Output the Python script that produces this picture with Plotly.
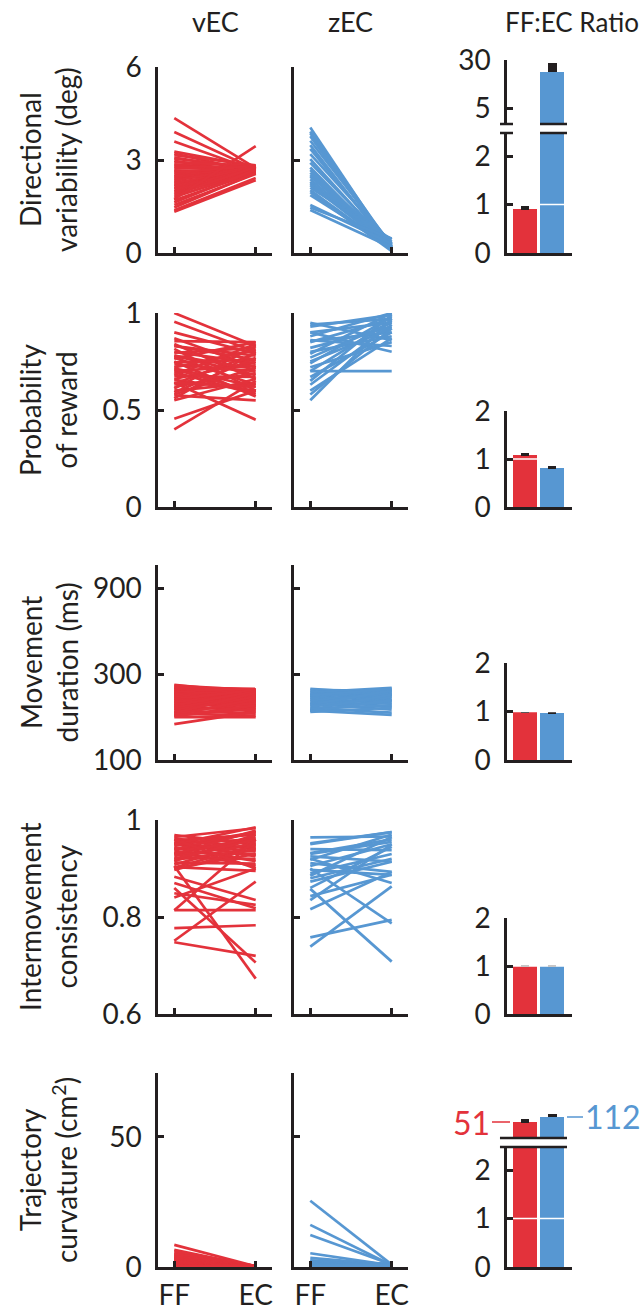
import math
import plotly.graph_objects as go

W, H = 641, 1314
RED = "#E3323B"
BLUE = "#5797D2"
INK = "#231F20"
FONT = "Lato, Liberation Sans, sans-serif"

conditions = ["FF", "EC"]
column_titles = ["vEC", "zEC", "FF:EC Ratio"]
row_titles = ["Directional<br>variability (deg)", "Probability<br>of reward",
              "Movement<br>duration (ms)", "Intermovement<br>consistency",
              "Trajectory<br>curvature (cm<sup>2</sup>)"]

# ---- Row 1: directional variability (deg)
dirvar_vEC_FF = [4.35, 3.90, 3.60, 3.27, 3.21, 3.16, 3.08, 3.04, 2.97, 2.93, 2.86, 2.83, 2.77, 2.74,
                 2.67, 2.64, 2.59, 2.55, 2.49, 2.47, 2.41, 2.37, 2.33, 2.28, 2.24, 2.19, 2.15, 2.09,
                 2.06, 1.99, 1.94, 1.88, 1.81, 1.74, 1.70, 1.63, 1.55, 1.47, 1.38, 1.33]
dirvar_vEC_EC = [2.74, 2.70, 2.66, 2.78, 2.61, 2.83, 2.67, 2.75, 2.58, 2.80, 2.69, 2.62, 2.77, 2.71,
                 2.56, 2.68, 2.81, 2.63, 2.73, 2.59, 2.70, 2.66, 2.79, 2.61, 2.75, 2.64, 2.68, 2.72,
                 2.57, 2.70, 2.62, 2.77, 2.65, 3.45, 2.60, 2.69, 2.55, 2.58, 2.42, 2.35]
dirvar_zEC_FF = [4.05, 3.92, 3.86, 3.77, 3.62, 3.48, 3.36, 3.19, 3.03, 2.91, 2.76, 2.68, 2.59, 2.52,
                 2.46, 2.38, 2.30, 2.25, 2.19, 2.11, 2.03, 1.96, 1.87, 1.55, 1.47, 1.39]
dirvar_zEC_EC = [0.12, 0.20, 0.08, 0.15, 0.26, 0.10, 0.18, 0.31, 0.14, 0.22, 0.09, 0.17, 0.28, 0.12,
                 0.36, 0.20, 0.10, 0.24, 0.16, 0.44, 0.13, 0.06, 0.21, 0.30, 0.47, 0.18]

# ---- Row 2: probability of reward
reward_vEC_FF = [1.00, 0.955, 0.90, 0.87, 0.855, 0.84, 0.83, 0.815, 0.80, 0.795, 0.78, 0.77, 0.765,
                 0.75, 0.745, 0.735, 0.72, 0.715, 0.70, 0.695, 0.68, 0.675, 0.66, 0.655, 0.64, 0.635,
                 0.62, 0.61, 0.60, 0.59, 0.58, 0.575, 0.56, 0.55, 0.71, 0.78, 0.64, 0.455, 0.40, 0.83]
reward_vEC_EC = [0.83, 0.80, 0.79, 0.72, 0.85, 0.66, 0.78, 0.60, 0.74, 0.82, 0.68, 0.63, 0.85, 0.57,
                 0.76, 0.70, 0.81, 0.62, 0.73, 0.58, 0.84, 0.67, 0.75, 0.60, 0.45, 0.79, 0.69, 0.83,
                 0.64, 0.77, 0.72, 0.55, 0.80, 0.66, 0.59, 0.71, 0.62, 0.60, 0.65, 0.76]
reward_zEC_FF = [0.95, 0.94, 0.93, 0.90, 0.90, 0.88, 0.855, 0.85, 0.82, 0.80, 0.79, 0.77, 0.75, 0.74,
                 0.72, 0.70, 0.70, 0.67, 0.65, 0.63, 0.60, 0.58, 0.55, 0.86]
reward_zEC_EC = [0.86, 0.97, 0.99, 0.80, 0.95, 1.00, 0.90, 0.97, 0.93, 0.88, 1.00, 0.95, 0.92, 0.98,
                 0.85, 0.70, 0.96, 0.90, 0.99, 0.94, 0.87, 0.92, 0.97, 0.83]

# ---- Row 3: movement duration (ms)
duration_vEC_FF = [261, 259, 254, 252, 251, 247, 246, 242, 240, 239, 236, 232, 231, 230, 226, 224, 223,
                   219, 218, 216, 213, 210, 209, 206, 203, 201, 200, 196, 194, 193, 189, 188, 184, 182,
                   181, 178, 176, 175, 173, 158]
duration_vEC_EC = [236, 244, 229, 248, 221, 239, 212, 246, 226, 233, 205, 241, 218, 230, 198, 237, 223,
                   209, 244, 215, 227, 191, 234, 202, 219, 240, 186, 212, 230, 196, 224, 181, 207, 236,
                   176, 218, 193, 201, 173, 185]
duration_zEC_FF = [248, 245, 240, 237, 233, 231, 227, 223, 222, 218, 216, 212, 208, 207, 203, 201, 198,
                   194, 193, 190, 188, 187, 185, 228]
duration_zEC_EC = [232, 241, 226, 251, 219, 238, 212, 246, 205, 229, 198, 235, 216, 190, 243, 208, 224,
                   183, 201, 231, 178, 214, 195, 249]

# ---- Row 4: intermovement consistency
consist_vEC_FF = [0.969, 0.965, 0.962, 0.958, 0.955, 0.952, 0.950, 0.947, 0.944, 0.941, 0.938, 0.935,
                  0.932, 0.929, 0.926, 0.922, 0.918, 0.915, 0.912, 0.908, 0.903, 0.902, 0.900, 0.897,
                  0.920, 0.940, 0.883, 0.870, 0.860, 0.849, 0.840, 0.814, 0.814, 0.777, 0.751, 0.748,
                  0.905, 0.930, 0.950, 0.960]
consist_vEC_EC = [0.950, 0.983, 0.940, 0.970, 0.925, 0.960, 0.935, 0.975, 0.915, 0.945, 0.958, 0.905,
                  0.930, 0.965, 0.950, 0.920, 0.938, 0.970, 0.910, 0.955, 0.895, 0.948, 0.930, 0.942,
                  0.960, 0.975, 0.835, 0.818, 0.706, 0.825, 0.900, 0.814, 0.960, 0.783, 0.873, 0.720,
                  0.673, 0.978, 0.985, 0.900]
consist_zEC_FF = [0.964, 0.952, 0.940, 0.932, 0.925, 0.918, 0.911, 0.905, 0.897, 0.890, 0.885, 0.873,
                  0.860, 0.858, 0.843, 0.835, 0.816, 0.758, 0.739, 0.930, 0.900, 0.950, 0.880, 0.920]
consist_zEC_EC = [0.966, 0.975, 0.938, 0.960, 0.914, 0.970, 0.893, 0.950, 0.887, 0.930, 0.965, 0.914,
                  0.945, 0.708, 0.887, 0.950, 0.893, 0.794, 0.863, 0.955, 0.787, 0.975, 0.920, 0.870]

# ---- Row 5: trajectory curvature (cm^2)
curv_vEC_FF = [8.5, 6.6, 6.1, 5.4, 5.0, 4.7, 4.2, 4.0, 3.8, 3.4, 3.3, 3.0, 2.9, 2.7, 2.5, 2.4, 2.2, 2.1,
               2.0, 1.9, 1.8, 1.7, 1.6, 1.5, 1.4, 1.3, 1.2, 1.1, 1.0, 0.9, 0.8, 0.7, 0.6, 0.55, 0.5, 0.4,
               0.35, 0.3, 0.25, 0.2]
curv_vEC_EC = [0.3, 0.2, 0.4, 0.25, 0.35, 0.15, 0.3, 0.45, 0.2, 0.3, 0.1, 0.35, 0.25, 0.4, 0.2, 0.3,
               0.15, 0.35, 0.25, 0.3, 0.2, 0.4, 0.1, 0.3, 0.25, 0.35, 0.2, 0.3, 0.15, 0.25, 0.3, 0.2,
               0.35, 0.1, 0.25, 0.3, 0.2, 0.15, 0.3, 0.2]
curv_zEC_FF = [25.5, 16.2, 12.3, 5.3, 3.5, 2.6, 2.3, 2.1, 1.9, 1.7, 1.5, 1.4, 1.2, 1.1, 1.0, 0.9, 0.8,
               0.7, 0.6, 0.5, 0.45, 0.4, 0.35, 0.3]
curv_zEC_EC = [0.9, 0.7, 1.0, 0.6, 0.8, 1.1, 0.5, 0.9, 0.7, 1.0, 0.6, 0.8, 0.9, 0.5, 1.2, 0.7, 0.8,
               0.6, 1.0, 0.9, 0.5, 0.7, 0.8, 0.6]

# ---- FF:EC ratio (mean, s.e.)
ratio_vEC = [0.91, 1.09, 0.99, 0.99, 51]
ratio_vEC_err = [0.04, 0.02, 0.01, 0.01, 19]
ratio_zEC = [19.2, 0.82, 0.97, 0.99, 112]
ratio_zEC_err = [7.6, 0.02, 0.01, 0.015, 67]

# ---- per-row axis settings
row_ranges = [[0, 6], [0, 1], [2, math.log10(1208)], [0.6, 1.0], [0, 74.6]]
row_types = ["linear", "linear", "log", "linear", "linear"]
row_tickvals = [[0, 3, 6], [0, 0.5, 1], [100, 300, 900], [0.6, 0.8, 1], [0, 50]]
row_ticktext = [["0", "3", "6"], ["0", "0.5", "1"], ["100", "300", "900"], ["0.6", "0.8", "1"], ["0", "50"]]
row_data = [
    (dirvar_vEC_FF, dirvar_vEC_EC, dirvar_zEC_FF, dirvar_zEC_EC),
    (reward_vEC_FF, reward_vEC_EC, reward_zEC_FF, reward_zEC_EC),
    (duration_vEC_FF, duration_vEC_EC, duration_zEC_FF, duration_zEC_EC),
    (consist_vEC_FF, consist_vEC_EC, consist_zEC_FF, consist_zEC_EC),
    (curv_vEC_FF, curv_vEC_EC, curv_zEC_FF, curv_zEC_EC),
]

# pixel layout (bottom, top) of each row's line panels
row_px = [(253, 67), (507, 313), (760, 565), (1014, 820), (1267, 1073)]
ratio_px = [(253, 133), (507, 411), (760, 663), (1014, 918), (1267, 1147)]
ratio_upper_px = {0: (124, 60), 4: (1138, 1100)}
ratio_upper_range = {0: [0.44, math.log10(30)], 4: [0.62, 3.205]}
LINE_X = [(158, 272), (294, 408)]
RATIO_X = (507, 572)


def xd(a, b):
    return [a / W, b / W]


def yd(bottom, top):
    return [1 - bottom / H, 1 - top / H]


fig = go.Figure()
layout = {}
shapes = []
annotations = []
counter = [0]

tickfont = dict(family=FONT, size=28, color=INK)
axis_common = dict(showgrid=False, zeroline=False, showline=True, linewidth=2.5, linecolor=INK,
                   ticks="inside", ticklen=6, tickwidth=2.5, tickcolor=INK, tickfont=tickfont,
                   automargin=False)


def new_axes(xcfg, ycfg):
    counter[0] += 1
    n = counter[0]
    s = "" if n == 1 else str(n)
    xcfg = dict(xcfg)
    ycfg = dict(ycfg)
    xcfg["anchor"] = "y" + s
    ycfg["anchor"] = "x" + s
    xcfg.setdefault("automargin", False)
    ycfg.setdefault("automargin", False)
    layout["xaxis" + s] = xcfg
    layout["yaxis" + s] = ycfg
    return "x" + s, "y" + s


for r in range(5):
    vff, vec, zff, zec = row_data[r]
    bottom, top = row_px[r]
    for c, (ff, ec, col) in enumerate([(vff, vec, RED), (zff, zec, BLUE)]):
        xcfg = dict(axis_common, domain=xd(*LINE_X[c]), range=[-0.2, 1.2],
                    tickmode="array", tickvals=[0, 1], ticktext=conditions,
                    showticklabels=(r == 4), ticklabelstandoff=2)
        ycfg = dict(axis_common, domain=yd(bottom, top), range=row_ranges[r], type=row_types[r],
                    tickmode="array", tickvals=row_tickvals[r], ticktext=row_ticktext[r],
                    showticklabels=(c == 0), ticklabelstandoff=8)
        xa, ya = new_axes(xcfg, ycfg)
        xs, ys = [], []
        for a, b in zip(ff, ec):
            xs += [0, 1, None]
            ys += [a, b, None]
        fig.add_trace(go.Scatter(x=xs, y=ys, mode="lines", xaxis=xa, yaxis=ya,
                                 line=dict(color=col, width=2.7), hoverinfo="skip",
                                 showlegend=False))

    # ratio panel (lower segment)
    rb, rt = ratio_px[r]
    lower_top = 2.0 if r in (1, 2, 3) else (rb - rt) / 48.5
    xcfg = dict(axis_common, domain=xd(*RATIO_X), range=[-0.667, 1.74], ticks="",
                showticklabels=False)
    ycfg = dict(axis_common, domain=yd(rb, rt), range=[0, lower_top], tickmode="array",
                tickvals=[0, 1, 2], ticktext=["0", "1", "2"], ticklabelstandoff=8)
    xa, ya = new_axes(xcfg, ycfg)
    has_upper = r in ratio_upper_px
    vals = [ratio_vEC[r], ratio_zEC[r]]
    errs = [ratio_vEC_err[r], ratio_zEC_err[r]]
    for i, (v, e, col) in enumerate(zip(vals, errs, [RED, BLUE])):
        show_err = not (has_upper and v > lower_top)
        fig.add_trace(go.Bar(x=[i], y=[v], width=0.89, marker=dict(color=col, line=dict(width=0)),
                             xaxis=xa, yaxis=ya, showlegend=False, hoverinfo="skip",
                             error_y=dict(type="data", symmetric=False, array=[e], arrayminus=[0],
                                          color=INK, thickness=1.8, width=4, visible=show_err)))
    shapes.append(dict(type="line", xref=xa, yref=ya, x0=-0.445, x1=1.445, y0=1, y1=1,
                       line=dict(color="white", width=1.6), layer="above"))

    if has_upper:
        ub, ut = ratio_upper_px[r]
        xcfg_u = dict(domain=xd(*RATIO_X), range=[-0.667, 1.74], showline=False, showgrid=False,
                      zeroline=False, ticks="", showticklabels=False)
        if r == 0:
            ycfg_u = dict(axis_common, domain=yd(ub, ut), type="log", range=ratio_upper_range[r],
                          tickmode="array", tickvals=[5, 30], ticktext=["5", "30"],
                          ticklabelstandoff=8)
        else:
            ycfg_u = dict(domain=yd(ub, ut), type="log", range=ratio_upper_range[r], showline=False,
                          showgrid=False, zeroline=False, ticks="", showticklabels=False)
        xu, yu = new_axes(xcfg_u, ycfg_u)
        for i, (v, e, col) in enumerate(zip(vals, errs, [RED, BLUE])):
            thick = (i == 1)
            fig.add_trace(go.Bar(x=[i], y=[v], width=0.89,
                                 marker=dict(color=col, line=dict(width=0)),
                                 xaxis=xu, yaxis=yu, showlegend=False, hoverinfo="skip",
                                 error_y=dict(type="data", symmetric=False, array=[e],
                                              arrayminus=[0], color=INK,
                                              thickness=9 if thick else 1.8,
                                              width=0 if thick else 4)))
        # axis-break marks
        lo_ref = ya + " domain"
        up_ref = yu + " domain"
        xdom = xa + " domain"
        if r == 0:
            pieces = [(-0.108, 0.092), (0.508, 0.923)]
        else:
            pieces = [(-0.108, 0.923)]
        for (a, b) in pieces:
            shapes.append(dict(type="line", xref=xdom, yref=lo_ref, x0=a, x1=b, y0=1, y1=1,
                               line=dict(color=INK, width=2.5), layer="above"))
            shapes.append(dict(type="line", xref=xdom, yref=up_ref, x0=a, x1=b, y0=0, y1=0,
                               line=dict(color=INK, width=2.5), layer="above"))
        if r == 4:
            annotations.append(dict(xref=xu, yref=yu, x=-0.556, y=math.log10(ratio_vEC[r]),
                                    text=str(ratio_vEC[r]), showarrow=True, arrowhead=0,
                                    arrowwidth=1.5, arrowcolor=RED, ax=-18, ay=0,
                                    xanchor="right", font=dict(family=FONT, size=32, color=RED)))
            annotations.append(dict(xref=xu, yref=yu, x=1.555, y=math.log10(ratio_zEC[r]),
                                    text=str(ratio_zEC[r]), showarrow=True, arrowhead=0,
                                    arrowwidth=1.5, arrowcolor=BLUE, ax=16, ay=0,
                                    xanchor="left", font=dict(family=FONT, size=32, color=BLUE)))

# column titles
for txt, xc, anchor, fs in zip(column_titles, [215, 350, 503], ["center", "center", "left"],
                               [27, 27, 26]):
    annotations.append(dict(xref="paper", yref="paper", x=xc / W, y=1 - 22 / H, text=txt,
                            showarrow=False, xanchor=anchor, yanchor="middle",
                            font=dict(family=FONT, size=fs, color=INK)))

# row titles
for r, txt in enumerate(row_titles):
    b, t = row_px[r]
    annotations.append(dict(xref="paper", yref="paper", x=48 / W, y=1 - ((b + t) / 2) / H,
                            text=txt, textangle=-90, showarrow=False, xanchor="center",
                            yanchor="middle", font=dict(family=FONT, size=28, color=INK)))

fig.update_layout(template="none", width=W, height=H, margin=dict(l=0, r=0, t=0, b=0, pad=0),
                  paper_bgcolor="white", plot_bgcolor="white", showlegend=False, bargap=0,
                  shapes=shapes, annotations=annotations, **layout)
fig.write_html("out.html", config={"displayModeBar": False},
               post_script="document.body.style.margin='0';document.body.style.overflow='hidden';")
